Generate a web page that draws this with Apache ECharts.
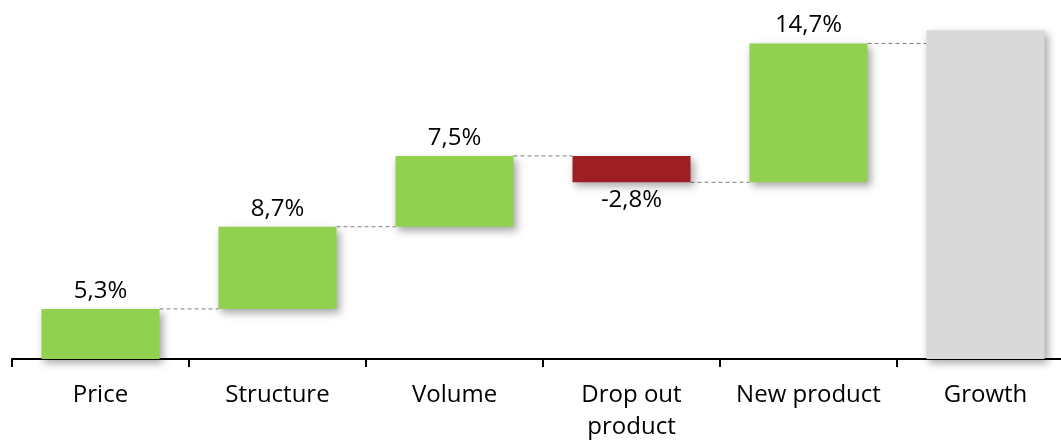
<!DOCTYPE html>
<html><head><meta charset="utf-8">
<script src="https://cdn.jsdelivr.net/npm/echarts@6/dist/echarts.min.js"></script>
<style>html,body{margin:0;padding:0;background:#fff}#c{width:1061px;height:444px}</style>
</head><body><div id="c"></div>
<script>
// ---- data ----
const categories = ['Price', 'Structure', 'Volume', 'Drop out\nproduct', 'New product', 'Growth'];
const changes = [5.3, 8.7, 7.5, -2.8, 14.7];
const growthTotal = 34.8;
const labelTexts = ['5,3%', '8,7%', '7,5%', '-2,8%', '14,7%', ''];

// ---- derived ----
const baseVals = [], heightVals = [], connectors = [];
let cum = 0;
changes.forEach((v, i) => {
  const start = cum, end = cum + v;
  baseVals.push(Math.min(start, end));
  heightVals.push({
    value: Math.abs(v),
    itemStyle: { color: v >= 0 ? '#92D050' : '#9E1F23' },
    label: { position: v >= 0 ? 'top' : 'bottom' }
  });
  connectors.push([i, end]);
  cum = end;
});
baseVals.push(0);
heightVals.push({ value: growthTotal, itemStyle: { color: '#D9D9D9' }, label: { show: false } });

const barRatio = 0.667;
const font = "'Open Sans', 'Noto Sans', sans-serif";

const chart = echarts.init(document.getElementById('c'), null, { renderer: 'canvas' });
chart.setOption({
  animation: false,
  grid: { left: 12, right: -13, top: 0, bottom: 85, containLabel: false, outerBoundsMode: 'none' },
  xAxis: {
    type: 'category',
    data: categories,
    axisLine: { lineStyle: { color: '#000', width: 2 } },
    axisTick: { show: true, length: 8, lineStyle: { color: '#000', width: 2 } },
    axisLabel: { color: '#000', fontSize: 24, fontFamily: font, lineHeight: 32, margin: 20, interval: 0 }
  },
  yAxis: { type: 'value', min: 0, max: 38, show: false, splitLine: { show: false } },
  series: [
    {
      type: 'bar', stack: 'w', data: baseVals, barWidth: (barRatio * 100) + '%',
      itemStyle: { color: 'rgba(0,0,0,0)' }, silent: true
    },
    {
      type: 'bar', stack: 'w', data: heightVals, barWidth: (barRatio * 100) + '%',
      itemStyle: { shadowBlur: 8, shadowOffsetX: 3, shadowOffsetY: 4, shadowColor: 'rgba(0,0,0,0.35)' },
      label: {
        show: true, color: '#000', fontSize: 24, fontFamily: font, distance: 6,
        formatter: p => labelTexts[p.dataIndex]
      }
    },
    {
      type: 'custom', data: connectors, encode: { x: 0, y: 1 }, z: 1,
      renderItem: (params, api) => {
        const i = api.value(0), v = api.value(1);
        const p1 = api.coord([i, v]), p2 = api.coord([i + 1, v]);
        const half = api.size([1, 0])[0] * barRatio / 2;
        return {
          type: 'line',
          shape: { x1: p1[0] + half, y1: p1[1], x2: p2[0] - half, y2: p2[1] },
          style: { stroke: '#7F7F7F', lineWidth: 1, lineDash: [4, 3] }
        };
      }
    }
  ]
});
</script></body></html>
